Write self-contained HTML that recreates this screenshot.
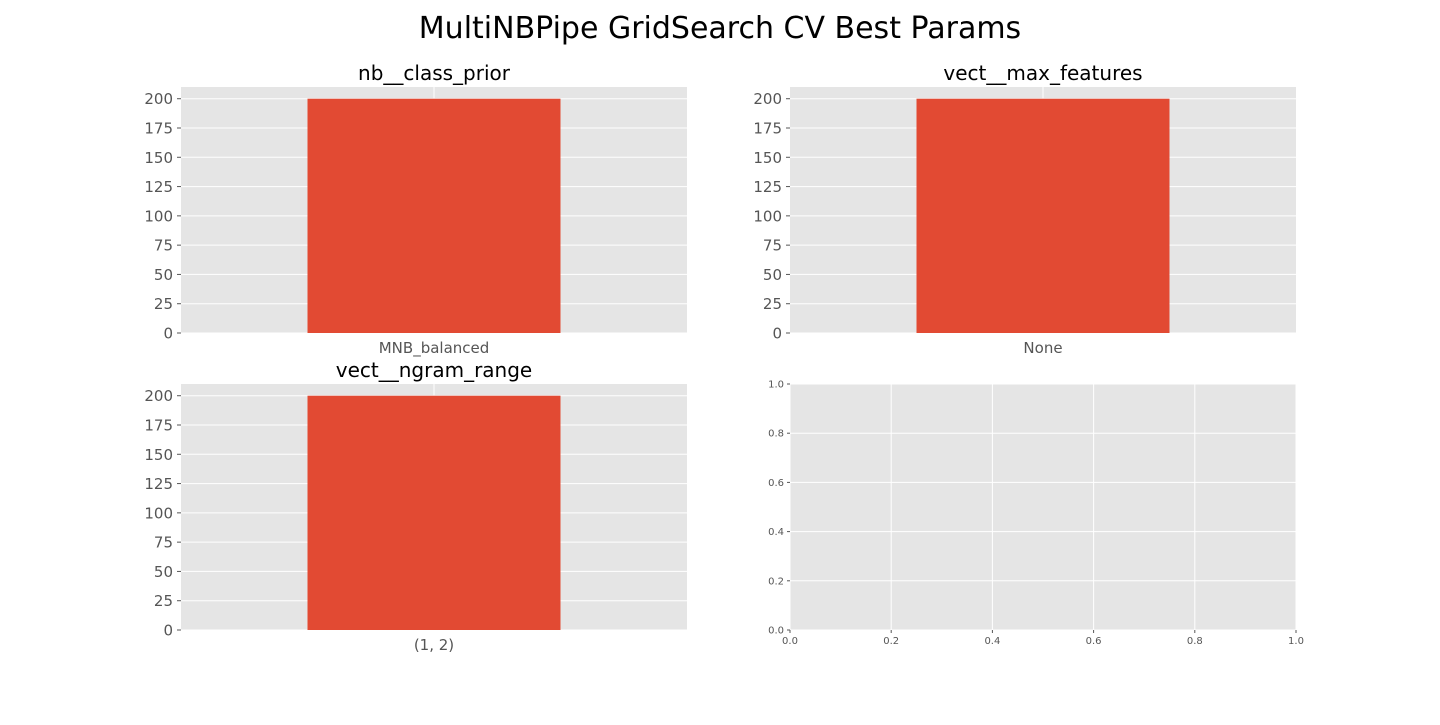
<!DOCTYPE html>
<html><head><meta charset="utf-8"><style>
body{margin:0;background:#fff;width:1440px;height:720px;overflow:hidden}
svg{font-family:"DejaVu Sans","Liberation Sans",sans-serif}
</style></head><body>
<svg id="c" width="1440" height="720">
<text x="720" y="38" font-size="30" text-anchor="middle" fill="#000">MultiNBPipe GridSearch CV Best Params</text>
</svg>
<script>
const titles = ["nb__class_prior","vect__max_features","vect__ngram_range"];
const categories = [["MNB_balanced"],["None"],["(1, 2)"]];
const values = [[200],[200],[200]];
const yTicks = [0,25,50,75,100,125,150,175,200];
const emptyTicks = [0,0.2,0.4,0.6,0.8,1.0];
const NS="http://www.w3.org/2000/svg";
const svg=document.getElementById('c');
function mk(t,a,p){const e=document.createElementNS(NS,t);for(const k in a)e.setAttribute(k,a[k]);(p||svg).appendChild(e);return e;}
const boxes=[[181,87],[790,87],[181,384]];
const W=506,H=246;
boxes.forEach((b,i)=>{
  const [x0,y0]=b;
  const g=mk('g',{});
  
  
  mk('rect',{x:x0,y:y0,width:W,height:H,fill:'#e5e5e5'},g);
  const ymax=210;
  const ys=v=>y0+H-v/ymax*H;
  const n=categories[i].length;
  const xs=k=>x0+(k+0.5)/n*W;
  yTicks.forEach(t=>{
    mk('line',{x1:x0,x2:x0+W,y1:ys(t),y2:ys(t),stroke:'#fff','stroke-width':1},g);
    mk('line',{x1:x0-4,x2:x0,y1:ys(t),y2:ys(t),stroke:'#555'},g);
    const tx=mk('text',{x:x0-8,y:ys(t)+5.5,'font-size':15,'text-anchor':'end',fill:'#555'},g);
    tx.textContent=t;
    
    
  });
  categories[i].forEach((c,k)=>{
    mk('line',{x1:xs(k),x2:xs(k),y1:y0,y2:y0+H,stroke:'#fff'},g);
    const r=mk('rect',{x:xs(k)-W/n/4,y:ys(values[i][k]),width:W/n/2,height:ys(0)-ys(values[i][k]),fill:'#e24a33'},g);
    
    
    const tx=mk('text',{x:xs(k),y:y0+H+20,'font-size':15,'text-anchor':'middle',fill:'#555'},g);
    tx.textContent=c;
    
    
  });
  const tt=mk('text',{x:x0+W/2,y:y0-7,'font-size':20,'text-anchor':'middle',fill:'#000'},g);
  tt.textContent=titles[i];
  
  
});
(function(){
  const x0=790,y0=384;
  const g=mk('g',{});
  
  
  mk('rect',{x:x0,y:y0,width:W,height:H,fill:'#e5e5e5'},g);
  emptyTicks.forEach(t=>{
    const y=y0+H-t*H, x=x0+t*W;
    mk('line',{x1:x0,x2:x0+W,y1:y,y2:y,stroke:'#fff'},g);
    mk('line',{x1:x,x2:x,y1:y0,y2:y0+H,stroke:'#fff'},g);
    mk('line',{x1:x0-3,x2:x0,y1:y,y2:y,stroke:'#555'},g);
    mk('line',{x1:x,x2:x,y1:y0+H,y2:y0+H+3,stroke:'#555'},g);
    const a=mk('text',{x:x0-6,y:y+3.5,'font-size':10,'text-anchor':'end',fill:'#555'},g);
    a.textContent=t.toFixed(1);
    
    
    const b=mk('text',{x:x,y:y0+H+14,'font-size':10,'text-anchor':'middle',fill:'#555'},g);
    b.textContent=t.toFixed(1);
    
    
  });
})();
</script>
</body></html>
